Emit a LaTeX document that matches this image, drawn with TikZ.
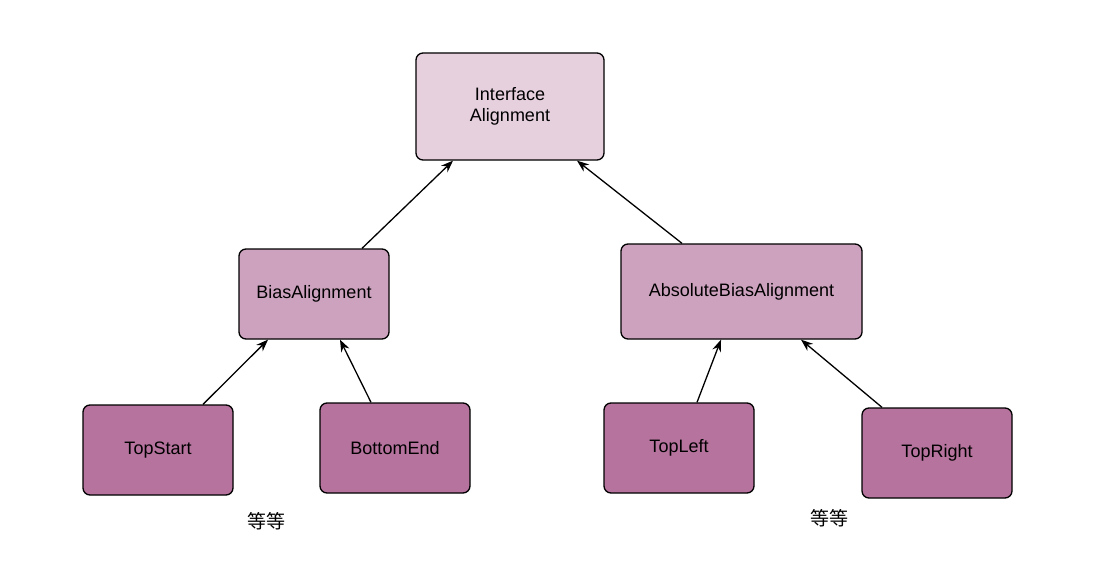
\documentclass[tikz,border=0pt]{standalone}
\usepackage{fontspec}
\setmainfont{Liberation Sans}
\newfontfamily\cjk{Noto Sans CJK SC}
\usetikzlibrary{arrows.meta}
\definecolor{topfill}{HTML}{E6D0DE}
\definecolor{midfill}{HTML}{CDA2BE}
\definecolor{leaffill}{HTML}{B5739D}
\begin{document}
\begin{tikzpicture}[x=1pt,y=-1pt,
  box/.style={draw=black, line width=1.3pt, rounded corners=7pt, inner sep=0pt,
    font=\fontsize{18}{21}\selectfont, align=center, text=black},
  topbox/.style={box, fill=topfill},
  midbox/.style={box, fill=midfill},
  leafbox/.style={box, fill=leaffill, minimum width=150pt, minimum height=90pt},
  conn/.style={draw=black, line width=1.3pt, -{Stealth[length=12pt,width=9pt]}},
  note/.style={font=\cjk\fontsize{19}{22}\selectfont, text=black}]
\useasboundingbox[fill=white] (0,0) rectangle (1115,567);
\node[topbox, minimum width=188pt, minimum height=107pt] (iface) at (510,106.5) {Interface\\Alignment};
\node[midbox, minimum width=150pt, minimum height=90pt] (bias) at (314,294) {BiasAlignment};
\node[midbox, minimum width=241pt, minimum height=95pt] (abs) at (741.5,291.5) {AbsoluteBiasAlignment};
\node[leafbox] (ts) at (158,450) {TopStart};
\node[leafbox] (be) at (395,448) {BottomEnd};
\node[leafbox] (tl) at (679,448) {TopLeft};
\node[leafbox] (tr) at (937,453) {TopRight};
\node[note] (n1) at (266,521) {等等};
\node[note] (n2) at (829,518) {等等};
\draw[conn] ([xshift=48pt]bias.north) -- ([xshift=-57pt]iface.south);
\draw[conn] ([xshift=-59.5pt]abs.north) -- ([xshift=67pt]iface.south);
\draw[conn] ([xshift=45pt]ts.north) -- ([xshift=-46pt]bias.south);
\draw[conn] ([xshift=-24pt]be.north) -- ([xshift=26pt]bias.south);
\draw[conn] ([xshift=18pt]tl.north) -- ([xshift=-20.5pt]abs.south);
\draw[conn] ([xshift=-55pt]tr.north) -- ([xshift=59.5pt]abs.south);
\end{tikzpicture}
\end{document}
